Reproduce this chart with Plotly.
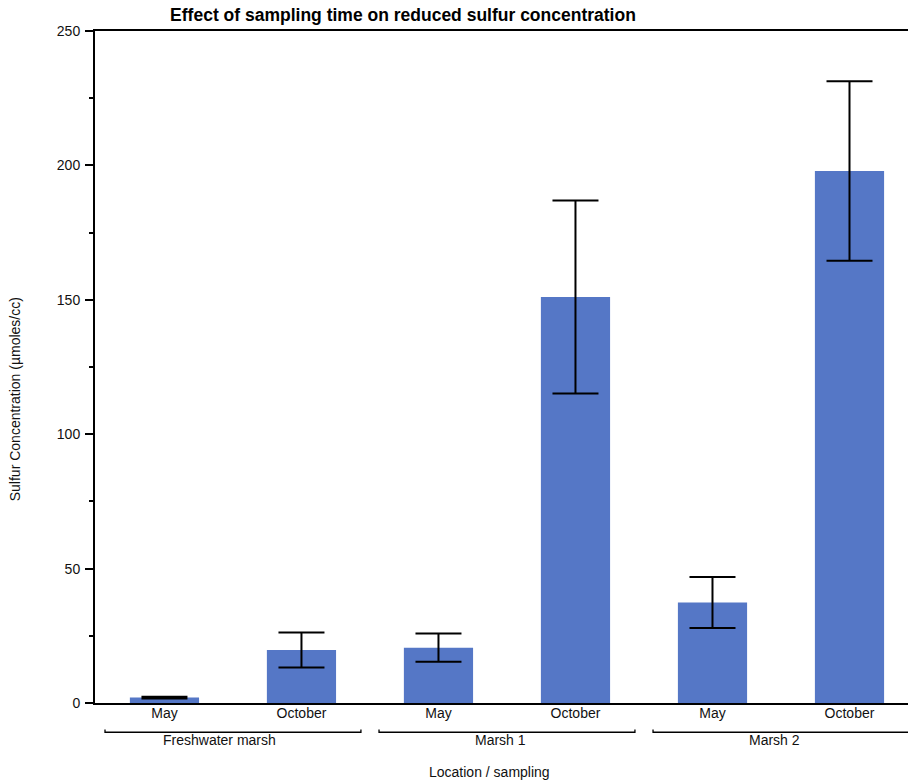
import plotly.graph_objects as go

# Sulfur concentration per location and sampling month
categories = ["FW-May", "FW-Oct", "M1-May", "M1-Oct", "M2-May", "M2-Oct"]
tick_labels = ["May", "October", "May", "October", "May", "October"]
concentration = [2.0, 19.7, 20.6, 151.0, 37.4, 197.9]
std_error = [0.3, 6.5, 5.3, 35.9, 9.5, 33.4]

groups = ["Freshwater marsh", "Marsh 1", "Marsh 2"]
group_spans = [(0, 1), (2, 3), (4, 5)]
group_label_x = [0.40, 2.45, 4.455]

FONT = "Liberation Sans, Arial, sans-serif"
BAR_COLOR = "#5577c6"
LABEL_SIZE = 14

x_idx = list(range(len(categories)))

fig = go.Figure()
fig.add_trace(go.Bar(
    x=x_idx,
    y=concentration,
    width=0.505,
    marker=dict(color=BAR_COLOR, line=dict(width=0)),
    error_y=dict(type="data", array=std_error, visible=True,
                 color="black", thickness=2, width=23),
    showlegend=False,
))

# Brackets grouping the two sampling months of each location
inset = 0.066
y_line = -0.0435
y_end = -0.0395
for (a, b) in group_spans:
    x0 = a - 0.5 + inset
    x1 = b + 0.5 - inset
    fig.add_shape(type="path", xref="x", yref="paper",
                  path=f"M {x0},{y_end} L {x0},{y_line} L {x1},{y_line} L {x1},{y_end}",
                  line=dict(color="black", width=1.3))

annotations = []
for name, gx in zip(groups, group_label_x):
    annotations.append(dict(x=gx, y=-0.0557, xref="x", yref="paper", text=name,
                            showarrow=False, xanchor="center", yanchor="middle",
                            font=dict(family=FONT, size=LABEL_SIZE, color="#111")))

annotations.append(dict(x=2.374, y=-0.102, xref="x", yref="paper",
                        text="Location / sampling", showarrow=False,
                        xanchor="center", yanchor="middle",
                        font=dict(family=FONT, size=LABEL_SIZE, color="#111")))
annotations.append(dict(x=-0.0984, y=0.452, xref="paper", yref="paper",
                        text="Sulfur Concentration (µmoles/cc)", showarrow=False,
                        textangle=-90, xanchor="center", yanchor="middle",
                        font=dict(family=FONT, size=LABEL_SIZE, color="#111")))

fig.update_layout(
    width=908, height=780,
    margin=dict(l=95, r=0, t=31, b=77, pad=0),
    plot_bgcolor="white", paper_bgcolor="white",
    font=dict(family=FONT, size=LABEL_SIZE, color="#111"),
    title=dict(text="<b>Effect of sampling time on reduced sulfur concentration</b>",
               x=0.4438, xref="container", xanchor="center",
               y=1 - 15 / 780, yref="container", yanchor="middle",
               font=dict(family=FONT, size=17.5, color="#000")),
    annotations=annotations,
    bargap=0.5,
)

fig.update_xaxes(
    range=[-0.507, 5.427],
    tickmode="array", tickvals=x_idx, ticktext=tick_labels,
    ticks="", showline=True, linecolor="black", linewidth=1.5, mirror=True,
    showgrid=False, zeroline=False,
    tickfont=dict(family=FONT, size=LABEL_SIZE, color="#111"),
    ticklabelstandoff=-4,
)
fig.update_yaxes(
    range=[0, 250],
    tickmode="array", tickvals=[0, 50, 100, 150, 200, 250],
    ticks="outside", ticklen=8, tickwidth=2, tickcolor="black",
    minor=dict(tickvals=[25, 75, 125, 175, 225], ticks="outside",
               ticklen=4, tickwidth=1.5, tickcolor="black", showgrid=False),
    showline=True, linecolor="black", linewidth=2,
    showgrid=False, zeroline=False,
    tickfont=dict(family=FONT, size=LABEL_SIZE, color="#111"),
    ticklabelstandoff=2,
)

fig.write_html("out.html")
